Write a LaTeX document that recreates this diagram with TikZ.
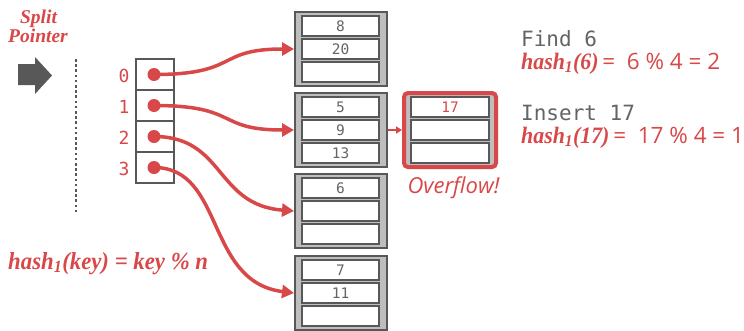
\documentclass[tikz,border=0pt]{standalone}
\usepackage{fontspec}
\usetikzlibrary{arrows.meta}
\setmainfont{Open Sans}
\newfontfamily\monof{DejaVu Sans Mono}
\newfontfamily\hashf{Liberation Serif}[FakeStretch=0.93]
\newfontfamily\splitf{Liberation Serif}
\definecolor{myred}{RGB}{217,72,72}
\definecolor{dgray}{RGB}{88,88,88}
\definecolor{tgray}{RGB}{100,100,100}
\definecolor{bfill}{RGB}{190,190,190}
\newcommand{\hs}[1]{{\hashf\bfseries\itshape #1}}
\tikzset{
  bucket/.style={draw=dgray, line width=2pt, fill=bfill, minimum width=92pt, minimum height=74pt, inner sep=0pt},
  slot/.style={draw=dgray, line width=1.3pt, fill=white, minimum width=77pt, minimum height=20pt, inner sep=0pt, font=\monof\fontsize{14.5}{14.5}\selectfont, text=tgray},
  cell/.style={draw=dgray, line width=1.5pt, minimum width=38pt, minimum height=31pt, inner sep=0pt},
  dotn/.style={circle, fill=myred, minimum size=13pt, inner sep=0pt},
  ptr/.style={draw=myred, line width=3.5pt, -{Triangle[length=12pt,width=13pt]}},
  lbl/.style={font=\monof\fontsize{18}{18}\selectfont, text=myred},
}
\begin{document}
\begin{tikzpicture}[x=1pt,y=-1pt]
\clip (0,0) rectangle (744,330);
\fill[white] (0,0) rectangle (744,330);
% split pointer
\node[anchor=base, inner sep=0pt, font=\splitf\bfseries\itshape\fontsize{19.5}{19.5}\selectfont, text=myred] (sp1) at (38.5,23) {Split};
\node[anchor=base, inner sep=0pt, font=\splitf\bfseries\itshape\fontsize{19.5}{19.5}\selectfont, text=myred] (sp2) at (38,42) {Pointer};
\fill[dgray] (18,64) -- (35,64) -- (35,57) -- (52,75.5) -- (35,94) -- (35,85) -- (18,85) -- cycle;
\draw[dgray, line width=2.6pt, dash pattern=on 2.6pt off 2.6pt] (76,59) -- (76,213);
% directory
\foreach \k in {0,1,2,3} {
  \node[cell] (c\k) at (155,74.5+31*\k) {};
  \node[dotn] (d\k) at (154,74.5+31*\k) {};
  \node[lbl] (l\k) at (124,75.5+31*\k) {\k};
}
% buckets
\foreach \i/\t/\a/\b/\c in {1/11/8/20/{},2/92/5/9/13,3/173/6/{}/{},4/255/7/11/{}} {
  \node[bucket] (b\i) at (341,\t+38) {};
  \node[slot] (b\i-1) at (340.5,\t+15) {\a};
  \node[slot] (b\i-2) at (340.5,\t+38) {\b};
  \node[slot] (b\i-3) at (340.5,\t+61) {\c};
}
% overflow
\node[draw=myred, line width=4pt, rounded corners=4pt, fill=bfill, minimum width=92pt, minimum height=74pt, inner sep=0pt] (ov) at (450,130) {};
\node[slot, minimum width=78pt, text=myred] (ov-1) at (450,107) {17};
\node[slot, minimum width=78pt] (ov-2) at (450,130) {};
\node[slot, minimum width=78pt] (ov-3) at (450,153) {};
\draw[myred, line width=1.5pt, -{Triangle[length=6pt,width=7pt]}] (b2.east) -- (ov.west);
\node[anchor=base, inner sep=0pt, font=\itshape\fontsize{22}{22}\selectfont, text=myred] (ovt) at (453.5,193) {Overflow!};
% connectors
\draw[ptr] (d0.center) .. controls (240,74.5) and (215,49) .. (b1-2.west -| b1.west);
\draw[ptr] (d1.center) .. controls (240,105.5) and (215,130) .. (b2-2.west -| b2.west);
\draw[ptr] (d2.center) .. controls (225,136.5) and (215,205) .. (b3-2.west -| b3.west);
\draw[ptr] (d3.center) .. controls (225,167.5) and (205,282) .. (b4-2.west -| b4.west);
% texts
\node[anchor=base west, inner sep=0pt, font=\monof\fontsize{21}{21}\selectfont, text=tgray] (f6) at (521,46) {Find 6};
\node[anchor=base west, inner sep=0pt, font=\fontsize{22.5}{22.5}\selectfont, text=myred] (h6) at (521,69) {{\fontsize{23.5}{23.5}\selectfont\hs{hash\textsubscript{1}(6)}}\,=\ \ 6 \% 4 = 2};
\node[anchor=base west, inner sep=0pt, font=\monof\fontsize{21}{21}\selectfont, text=tgray] (i17) at (521,120) {Insert 17};
\node[anchor=base west, inner sep=0pt, font=\fontsize{22.5}{22.5}\selectfont, text=myred] (h17) at (521,143) {{\fontsize{23.5}{23.5}\selectfont\hs{hash\textsubscript{1}(17)}}\,=\ \ 17 \% 4 = 1};
\node[anchor=base west, inner sep=0pt, font=\fontsize{24.5}{24.5}\selectfont, text=myred] (hk) at (8,269) {\hs{hash\textsubscript{1}(key) = key \% n}};
\end{tikzpicture}
\end{document}
